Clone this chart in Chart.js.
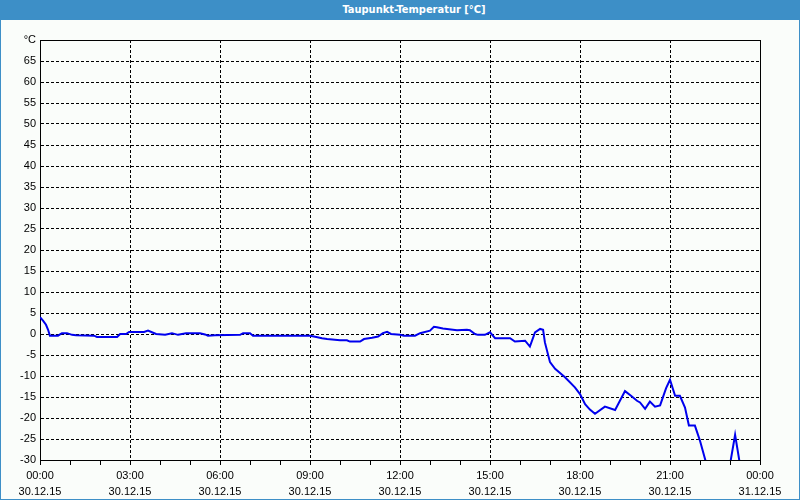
<!DOCTYPE html>
<html>
<head>
<meta charset="utf-8">
<title>Taupunkt-Temperatur</title>
<script src="https://cdn.jsdelivr.net/npm/chart.js@4/dist/chart.umd.min.js"></script>
<style>
    html, body { margin: 0; padding: 0; background: #fafdfa; }
    #wrap { position: relative; width: 800px; height: 500px; overflow: hidden; }
    #chart { position: absolute; left: 0; top: 0; }
    #titlebar {
        position: absolute; left: 0; top: 0; width: 800px; height: 20px;
        background: #3d8fc7; color: #fff;
        font: bold 11px "DejaVu Sans Condensed", "Liberation Sans", Arial, sans-serif;
        line-height: 20px; text-align: center; box-sizing: border-box; padding-left: 28px;
    }
    #border {
        position: absolute; left: 0; top: 0; width: 800px; height: 500px;
        box-sizing: border-box; border: 1px solid #3d8fc7; border-top: none;
        pointer-events: none;
    }
</style>
</head>
<body>
<div id="wrap">
    <canvas id="chart" width="800" height="500"></canvas>
    <div id="titlebar">Taupunkt-Temperatur [°C]</div>
    <div id="border"></div>
</div>
<script>
// Messzeitpunkte in Stunden ab 30.12.15 00:00
const hours = [
    0, 0.1, 0.2, 0.27, 0.33, 0.6, 0.73, 0.9, 1.07, 1.2,
    1.8, 1.9, 2.57, 2.67, 2.87, 2.97, 3.47, 3.6, 3.77, 3.87,
    4.17, 4.4, 4.6, 4.87, 5.33, 5.5, 5.6, 5.83, 6.67, 6.77,
    7.0, 7.1, 9.0, 9.13, 9.4, 9.57, 10.0, 10.23, 10.33, 10.67,
    10.8, 11.07, 11.27, 11.43, 11.57, 11.7, 11.9, 12.0, 12.13, 12.5,
    12.67, 13.0, 13.13, 13.23, 13.43, 13.9, 14.23, 14.33, 14.5, 14.6,
    14.83, 15.0, 15.17, 15.67, 15.83, 16.17, 16.33, 16.5, 16.67, 16.77,
    16.83, 17.0, 17.17, 17.5, 17.83, 18.0, 18.17, 18.33, 18.5, 18.83,
    19.17, 19.5, 19.7, 19.9, 20.0, 20.17, 20.33, 20.5, 20.67, 20.87,
    21.0, 21.17, 21.33, 21.5, 21.63, 21.83, 22.0, 22.17, 22.23, 22.93,
    23.17, 23.4
];

// Taupunkt in °C
const dewPoint = [
    4.0, 3.2, 2.2, 1.0, -0.4, -0.4, 0.2, 0.2, -0.2, -0.3,
    -0.4, -0.7, -0.7, 0.0, 0.0, 0.5, 0.5, 0.8, 0.3, 0.0,
    -0.2, 0.2, -0.2, 0.2, 0.2, -0.1, -0.4, -0.3, -0.2, 0.2,
    0.2, -0.4, -0.4, -0.6, -1.0, -1.2, -1.5, -1.5, -1.8, -1.8,
    -1.2, -0.9, -0.6, 0.2, 0.5, 0.0, -0.1, -0.2, -0.4, -0.4,
    0.2, 0.8, 1.7, 1.6, 1.3, 0.9, 1.0, 0.9, 0.0, -0.2,
    -0.2, 0.4, -1.0, -1.0, -1.8, -1.6, -3.0, 0.4, 1.2, 1.0,
    -2.0, -6.7, -8.3, -10.3, -12.7, -14.3, -16.7, -18.0, -19.0, -17.3,
    -18.1, -13.6, -14.7, -15.9, -16.3, -17.8, -16.1, -17.3, -17.0, -12.9,
    -10.9, -14.7, -14.7, -17.5, -21.8, -21.8, -25.4, -29.8, -31.5, -34.0,
    -24.0, -34.0
];

// Achsenbeschriftung (alle 3 Stunden)
const timeLabels = ['00:00', '03:00', '06:00', '09:00', '12:00', '15:00', '18:00', '21:00', '00:00'];
const dateLabels = ['30.12.15', '30.12.15', '30.12.15', '30.12.15', '30.12.15', '30.12.15', '30.12.15', '30.12.15', '31.12.15'];
const yMin = -30;
const yMax = 70;
const yUnit = '°C';

Chart.defaults.font.family = '"Liberation Sans", Arial, sans-serif';
Chart.defaults.font.size = 11;
Chart.defaults.color = '#000';

// solid black box around the plot area
const framePlugin = {
    id: 'frame',
    beforeDatasetsDraw(chart) {
        const { ctx, chartArea: a } = chart;
        ctx.save();
        ctx.strokeStyle = '#000';
        ctx.lineWidth = 1;
        ctx.strokeRect(Math.round(a.left) + 0.5, Math.round(a.top) + 0.5,
            Math.round(a.right - a.left), Math.round(a.bottom - a.top));
        ctx.restore();
    }
};

const points = hours.map((h, i) => ({ x: h, y: dewPoint[i] }));

new Chart(document.getElementById('chart'), {
    type: 'line',
    data: {
        datasets: [{
            data: points,
            borderColor: '#0000ee',
            borderWidth: 2,
            pointRadius: 0,
            tension: 0,
            fill: false
        }]
    },
    options: {
        responsive: false,
        animation: false,
        layout: { padding: { left: 0, top: 40, right: 40, bottom: 0 } },
        plugins: {
            legend: { display: false },
            tooltip: { enabled: false }
        },
        scales: {
            x: {
                type: 'linear',
                min: 0,
                max: 24,
                afterFit: (scale) => { scale.height = 40; },
                border: { display: true, color: '#000', dash: [3, 2] },
                grid: {
                    color: (ctx) => (ctx.tick && ctx.tick.value % 3 === 0) ? '#000' : 'rgba(0,0,0,0)',
                    tickColor: '#000',
                    tickLength: 5,
                    lineWidth: 1
                },
                ticks: {
                    stepSize: 1,
                    autoSkip: false,
                    maxRotation: 0,
                    padding: 3,
                    font: { lineHeight: '16px' },
                    callback: (value) => value % 3 === 0 ? [timeLabels[value / 3], dateLabels[value / 3]] : ''
                }
            },
            y: {
                min: yMin,
                max: yMax,
                afterFit: (scale) => { scale.width = 40; },
                border: { display: true, color: '#000', dash: [3, 2] },
                grid: {
                    color: '#000',
                    drawTicks: false,
                    lineWidth: 1
                },
                ticks: {
                    stepSize: 5,
                    padding: 4,
                    callback: (value) => value === yMax ? yUnit : value
                }
            }
        }
    },
    plugins: [framePlugin]
});
</script>
</body>
</html>
